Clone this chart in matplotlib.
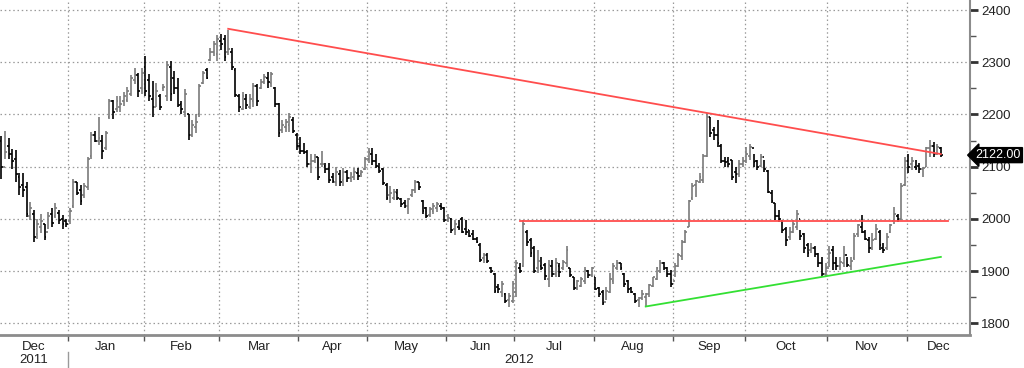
import numpy as np
import pandas as pd
import matplotlib
matplotlib.use('Agg')
import matplotlib.pyplot as plt
import matplotlib.transforms as mtransforms

plt.rcParams['font.family'] = ['Liberation Sans', 'DejaVu Sans']

# ---------------- data (daily bars, Dec 2011 - Dec 2012) ----------------
start_date = '2011-12-02'
end_date = '2012-12-14'
holidays = ['2011-12-26', '2011-12-27', '2012-01-02', '2012-04-06', '2012-04-09',
            '2012-05-07', '2012-06-04', '2012-06-05', '2012-08-27']

highs = [
    # Dec 2011
    2159, 2168, 2154, 2134, 2131, 2087, 2087, 2071, 2032, 2016, 2000, 2010, 1991, 2013, 2020, 2030, 2017, 2007, 2000,
    # Jan
    2020, 2077, 2071, 2064, 2068, 2118, 2166, 2169, 2195, 2160, 2169, 2230, 2227, 2236, 2236, 2243, 2252, 2275, 2289, 2280, 2289,
    # Feb
    2311, 2277, 2264, 2261, 2239, 2258, 2302, 2302, 2283, 2270, 2226, 2248, 2201, 2189, 2201, 2258, 2283, 2289, 2327, 2340, 2352,
    # Mar
    2355, 2352, 2362, 2327, 2289, 2239, 2242, 2239, 2239, 2261, 2258, 2267, 2277, 2282, 2282, 2253, 2221, 2189, 2192, 2202, 2195, 2164,
    # Apr
    2157, 2145, 2132, 2125, 2125, 2119, 2129, 2106, 2106, 2087, 2100, 2093, 2097, 2093, 2090, 2097, 2097, 2093, 2119,
    # May
    2135, 2135, 2125, 2106, 2097, 2068, 2062, 2058, 2058, 2039, 2036, 2039, 2058, 2074, 2071, 2036, 2023, 2023, 2030, 2033, 2030, 2023,
    # Jun
    2010, 2001, 1998, 1998, 2004, 1998, 1979, 1979, 1966, 1953, 1934, 1934, 1908, 1896, 1876, 1880, 1857, 1857, 1880,
    # Jul
    1921, 1915, 1998, 1979, 1963, 1947, 1940, 1927, 1915, 1921, 1921, 1924, 1915, 1921, 1947, 1905, 1889, 1883, 1889, 1908, 1902, 1908,
    # Aug
    1889, 1870, 1864, 1870, 1896, 1915, 1921, 1915, 1896, 1883, 1870, 1857, 1851, 1864, 1857, 1876, 1889, 1908, 1921, 1918, 1908, 1902,
    # Sep
    1915, 1934, 1959, 1979, 2036, 2068, 2074, 2087, 2125, 2202, 2196, 2176, 2189, 2144, 2119, 2119, 2113, 2100, 2113, 2119,
    # Oct
    2138, 2144, 2125, 2113, 2125, 2113, 2093, 2055, 2030, 2017, 1998, 1985, 1985, 1998, 2017, 1979, 1972, 1953, 1953, 1947, 1934, 1927, 1915,
    # Nov
    1947, 1947, 1927, 1927, 1947, 1927, 1927, 1972, 1991, 2007, 1979, 1966, 1972, 1991, 1979, 1953, 1972, 1991, 2023, 2010, 2068, 2119,
    # Dec 2012
    2125, 2119, 2113, 2106, 2100, 2138, 2151, 2148, 2144, 2138,
]
lows = [
    2077, 2115, 2115, 2096, 2071, 2045, 2042, 2004, 1997, 1956, 1962, 1972, 1959, 1981, 1985, 2001, 1991, 1981, 1985,
    1991, 2020, 2045, 2026, 2039, 2055, 2115, 2147, 2141, 2115, 2131, 2192, 2192, 2204, 2204, 2217, 2224, 2236, 2258, 2233, 2239,
    2236, 2226, 2195, 2214, 2208, 2245, 2226, 2226, 2239, 2214, 2201, 2195, 2151, 2157, 2164, 2195, 2258, 2267, 2302, 2311, 2302,
    2324, 2302, 2314, 2286, 2233, 2204, 2208, 2211, 2211, 2214, 2217, 2248, 2258, 2250, 2253, 2215, 2157, 2164, 2167, 2167, 2164, 2132,
    2125, 2125, 2100, 2087, 2106, 2074, 2100, 2087, 2068, 2068, 2062, 2062, 2062, 2071, 2071, 2074, 2074, 2081, 2093,
    2106, 2103, 2097, 2087, 2065, 2036, 2030, 2036, 2036, 2023, 2020, 2010, 2042, 2049, 2055, 2010, 2001, 2004, 2010, 2014, 2017, 1994,
    1994, 1972, 1969, 1979, 1972, 1969, 1966, 1959, 1953, 1918, 1915, 1915, 1896, 1857, 1857, 1851, 1838, 1832, 1838,
    1851, 1896, 1908, 1947, 1927, 1896, 1896, 1902, 1883, 1870, 1889, 1889, 1889, 1902, 1908, 1889, 1864, 1864, 1870, 1876, 1886, 1889,
    1864, 1851, 1835, 1845, 1857, 1876, 1902, 1902, 1870, 1857, 1857, 1838, 1832, 1844, 1832, 1851, 1870, 1883, 1896, 1902, 1889, 1870,
    1889, 1908, 1921, 1953, 1985, 2036, 2042, 2068, 2068, 2119, 2157, 2151, 2138, 2106, 2100, 2100, 2074, 2068, 2081, 2100,
    2106, 2113, 2100, 2093, 2100, 2090, 2049, 2030, 1998, 1994, 1972, 1947, 1959, 1972, 1979, 1959, 1934, 1927, 1934, 1927, 1908, 1889, 1889,
    1908, 1902, 1902, 1902, 1908, 1908, 1902, 1921, 1966, 1972, 1959, 1934, 1940, 1959, 1940, 1934, 1940, 1972, 1991, 1994, 1998, 2062,
    2087, 2093, 2093, 2087, 2081, 2100, 2119, 2119, 2122, 2119,
]
opens = [
    2150, 2100, 2140, 2125, 2115, 2080, 2065, 2060, 2005, 2010, 1970, 1985, 1990, 1975, 2010, 2005, 2012, 2000, 1995,
    1995, 2025, 2070, 2055, 2045, 2060, 2120, 2160, 2150, 2150, 2135, 2195, 2225, 2210, 2215, 2225, 2228, 2240, 2265, 2275, 2250,
    2290, 2265, 2230, 2215, 2235, 2250, 2235, 2290, 2270, 2250, 2220, 2205, 2200, 2160, 2175, 2200, 2260, 2285, 2305, 2320, 2315,
    2340, 2345, 2320, 2320, 2285, 2235, 2210, 2230, 2215, 2225, 2255, 2250, 2262, 2270, 2260, 2250, 2220, 2170, 2175, 2180, 2190, 2160,
    2140, 2130, 2128, 2105, 2110, 2118, 2105, 2102, 2095, 2080, 2070, 2085, 2075, 2090, 2078, 2080, 2088, 2085, 2095,
    2115, 2125, 2110, 2100, 2095, 2065, 2045, 2040, 2050, 2038, 2030, 2025, 2045, 2055, 2070, 2035, 2020, 2008, 2015, 2020, 2025, 2020,
    1998, 2000, 1980, 1985, 2000, 1980, 1978, 1970, 1962, 1950, 1925, 1930, 1905, 1895, 1870, 1860, 1855, 1845, 1842,
    1860, 1905, 1910, 1975, 1960, 1945, 1905, 1910, 1912, 1885, 1910, 1895, 1910, 1905, 1915, 1905, 1888, 1868, 1872, 1880, 1900, 1892,
    1888, 1868, 1860, 1840, 1860, 1880, 1905, 1915, 1895, 1880, 1868, 1855, 1845, 1848, 1850, 1855, 1872, 1885, 1900, 1915, 1905, 1895,
    1880, 1910, 1928, 1955, 1985, 2040, 2065, 2070, 2075, 2120, 2195, 2170, 2160, 2140, 2110, 2110, 2112, 2090, 2085, 2105,
    2110, 2120, 2135, 2110, 2102, 2118, 2092, 2050, 2030, 2005, 1996, 1980, 1965, 1975, 1985, 2000, 1970, 1950, 1940, 1945, 1932, 1915, 1895,
    1905, 1940, 1915, 1910, 1915, 1930, 1910, 1925, 1970, 1985, 1975, 1960, 1945, 1962, 1975, 1945, 1945, 1975, 1995, 2005, 2000, 2065,
    2110, 2105, 2100, 2102, 2095, 2100, 2135, 2140, 2125, 2135,
]
closes = [
    2100, 2128, 2125, 2110, 2085, 2060, 2055, 2010, 2020, 1965, 1990, 1995, 1965, 2005, 1992, 2020, 1998, 1990, 1990,
    2015, 2070, 2050, 2035, 2062, 2115, 2160, 2150, 2155, 2130, 2165, 2225, 2205, 2225, 2220, 2235, 2245, 2270, 2275, 2245, 2280,
    2245, 2235, 2215, 2245, 2215, 2252, 2295, 2240, 2250, 2218, 2210, 2240, 2160, 2180, 2185, 2255, 2280, 2270, 2320, 2335, 2345,
    2335, 2310, 2325, 2290, 2238, 2215, 2235, 2218, 2230, 2255, 2225, 2262, 2272, 2262, 2278, 2220, 2165, 2180, 2185, 2195, 2168, 2140,
    2130, 2128, 2105, 2110, 2118, 2080, 2105, 2095, 2075, 2072, 2090, 2070, 2090, 2078, 2085, 2090, 2082, 2090, 2115,
    2128, 2110, 2102, 2092, 2068, 2040, 2050, 2052, 2040, 2028, 2025, 2038, 2055, 2070, 2060, 2015, 2005, 2018, 2025, 2028, 2022, 1998,
    2002, 1978, 1990, 1982, 1975, 1975, 1968, 1962, 1956, 1922, 1930, 1920, 1900, 1862, 1865, 1875, 1842, 1852, 1875,
    1915, 1900, 1990, 1955, 1935, 1900, 1920, 1905, 1890, 1912, 1895, 1915, 1898, 1918, 1940, 1892, 1868, 1880, 1885, 1902, 1892, 1905,
    1866, 1855, 1838, 1862, 1885, 1910, 1915, 1905, 1875, 1865, 1860, 1842, 1848, 1855, 1855, 1874, 1888, 1905, 1915, 1905, 1895, 1875,
    1910, 1930, 1955, 1975, 2035, 2062, 2072, 2080, 2120, 2195, 2165, 2160, 2145, 2110, 2108, 2105, 2080, 2085, 2105, 2110,
    2125, 2138, 2108, 2100, 2118, 2095, 2052, 2035, 2005, 2000, 1978, 1960, 1975, 1990, 2010, 1968, 1945, 1935, 1945, 1932, 1915, 1895, 1905,
    1935, 1915, 1910, 1918, 1930, 1912, 1920, 1968, 1988, 1975, 1962, 1945, 1960, 1980, 1950, 1940, 1965, 1988, 2010, 2000, 2062, 2110,
    2100, 2110, 2098, 2095, 2097, 2135, 2140, 2125, 2138, 2122,
]

# trend lines: (start date, start value, end date, end value, colour, extra bars)
trend_lines = [
    ('2012-03-05', 2364, '2012-12-14', 2124, '#ff4d4d', 0.0),
    ('2012-07-03', 1996, '2012-12-14', 1996, '#ff4d4d', 2.0),
    ('2012-08-21', 1832, '2012-12-14', 1927, '#33e033', 0.0),
]
last_label = '2122.00'
y_ticks = [1800, 1900, 2000, 2100, 2200, 2300, 2400]

# ---------------- prep ----------------
dates = pd.bdate_range(start_date, end_date)
dates = dates[~dates.isin(pd.to_datetime(holidays))]
assert len(dates) == len(highs) == len(lows) == len(opens) == len(closes)
x = np.arange(len(dates))
highs = np.array(highs); lows = np.array(lows)
opens = np.array(opens); closes = np.array(closes)
pos = {d.strftime('%Y-%m-%d'): i for i, d in enumerate(dates)}

xmin, xmax = -0.4, 269.1
ymin, ymax = 1777.4, 2419.2

fig = plt.figure(figsize=(10.24, 3.68), dpi=100)
ax = fig.add_axes([0, 33/368, 970/1024, 335/368])

# grid
grid_kw = dict(color='#9a9a9a', lw=0.9, ls=(0, (1.2, 2.2)), zorder=0)
month_id = dates.year * 12 + dates.month
bounds = [i - 0.5 for i in range(1, len(dates)) if month_id[i] != month_id[i-1]]
for b in bounds:
    ax.axvline(b, **grid_kw)
for yv in y_ticks:
    ax.axhline(yv, **grid_kw)

# OHLC bars: gray up, black down
up = closes >= opens
cols = np.where(up, '#7a7a7a', '#000000')
ax.vlines(x, lows, highs, colors=cols, lw=1.2, zorder=3)
ax.hlines(opens, x - 0.5, x, colors=cols, lw=1.2, zorder=3)
ax.hlines(closes, x, x + 0.5, colors=cols, lw=1.2, zorder=3)

# trend lines
for d0, v0, d1, v1, c, ext in trend_lines:
    x0, x1 = pos[d0], pos[d1] + ext
    ax.plot([x0, x1], [v0, v1], color=c, lw=1.3, zorder=4)

ax.set_xlim(xmin, xmax)
ax.set_ylim(ymin, ymax)

# y axis on the right
ax.yaxis.tick_right()
ax.set_yticks(y_ticks)
ax.set_yticks(np.arange(1800, 2401, 50), minor=True)
ax.tick_params(axis='y', which='major', direction='out', length=6, width=2,
               color='#333333', labelsize=9.5, labelcolor='#222222', pad=2)
ax.tick_params(axis='y', which='minor', direction='out', length=4, width=1,
               color='#555555')

# x axis: month boundaries as ticks, month names centered
ax.set_xticks(bounds)
ax.set_xticklabels([])
edges = [xmin + 0.4] + bounds + [xmax]
mids = [(edges[k] + edges[k+1]) / 2 for k in range(len(edges) - 1)]
mids[0] = (bounds[0] - 0.5) / 2
month_names = [dates[0].strftime('%b')] + [dates[int(b + 0.5)].strftime('%b') for b in bounds]
ax.set_xticks(mids, minor=True)
ax.set_xticklabels(month_names, minor=True)
ax.tick_params(axis='x', which='major', direction='out', length=4, width=1, color='#555555')
ax.tick_params(axis='x', which='minor', length=0, labelsize=9.5, labelcolor='#222222', pad=4)

for s in ['top', 'left']:
    ax.spines[s].set_visible(False)
ax.spines['bottom'].set_color('#8c8c8c')
ax.spines['bottom'].set_linewidth(2)
ax.spines['right'].set_color('#8c8c8c')
ax.spines['right'].set_linewidth(1.5)

# year labels and separator
trans = mtransforms.blended_transform_factory(ax.transData, ax.transAxes)
ax.text(mids[0], -0.075, str(dates[0].year), transform=trans, ha='center', va='center',
        fontsize=9.5, color='#222222')
ax.text((bounds[0] + xmax) / 2, -0.075, str(dates[-1].year), transform=trans, ha='center',
        va='center', fontsize=9.5, color='#222222')
ax.plot([bounds[0], bounds[0]], [-0.05, -0.1], transform=trans, color='#9a9a9a', lw=1, clip_on=False)

# last price tag
transy = mtransforms.blended_transform_factory(ax.transAxes, ax.transData)
ax.annotate(last_label, xy=(1.0, closes[-1]), xycoords=transy, xytext=(4, 0),
            textcoords='offset points', ha='left', va='center', color='white', fontsize=9,
            bbox=dict(boxstyle='larrow,pad=0.12', fc='black', ec='black'), zorder=10,
            annotation_clip=False)

plt.savefig('out.png', dpi=100)
